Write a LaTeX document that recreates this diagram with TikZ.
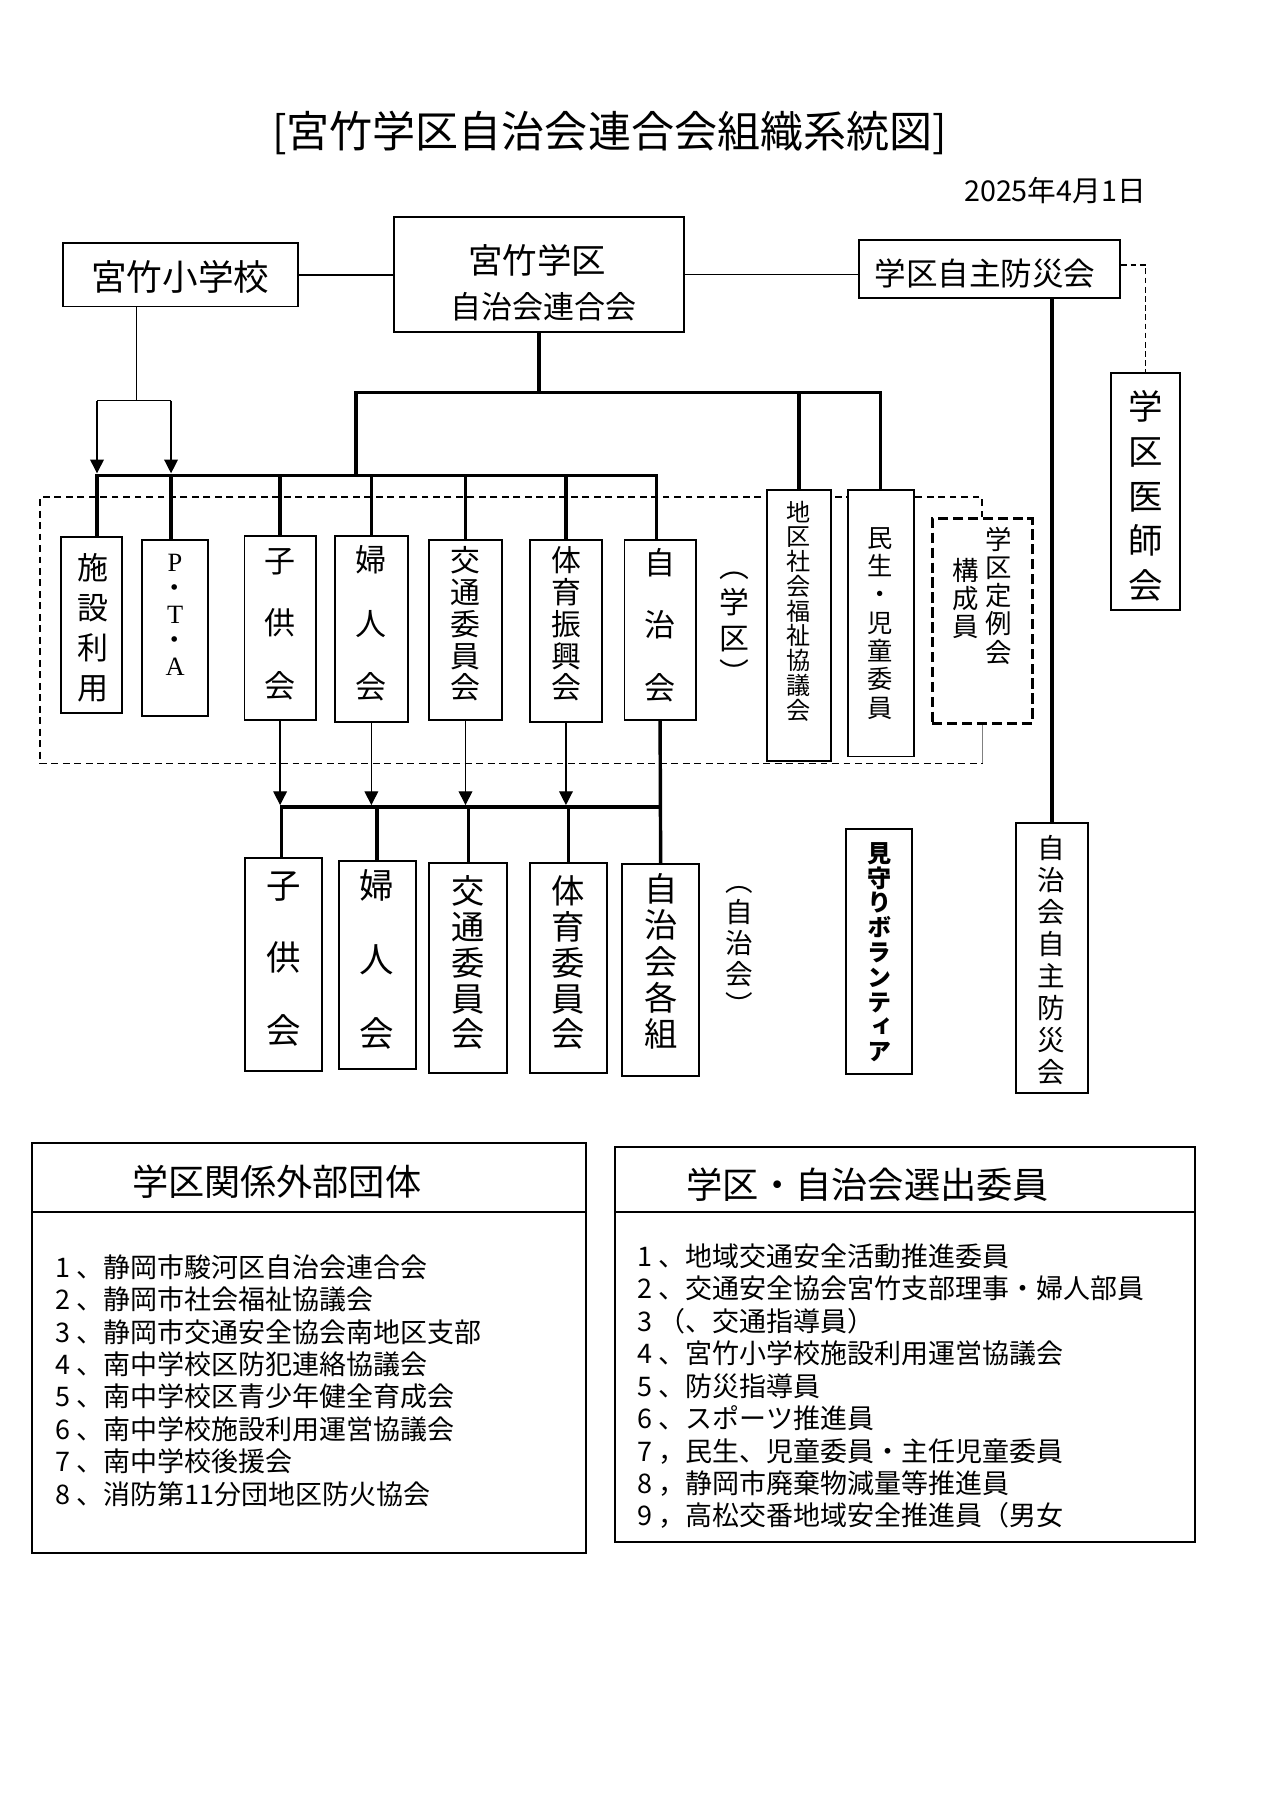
\documentclass[tikz,border=0pt]{standalone}
\usepackage{fontspec}
\setmainfont{Noto Sans CJK JP}
\newfontfamily\cjk{Noto Sans CJK JP}
\newfontfamily\cjkv[RawFeature=+vert]{Noto Sans CJK JP}
\newfontfamily\latserif{Liberation Serif}
\usetikzlibrary{arrows.meta}
\newcommand\lnum[1]{\makebox[0.8em][l]{#1}}
\newcommand\fs[2]{\fontsize{#1}{#2}\selectfont}
\pgfdeclarelayer{bg}
\pgfsetlayers{bg,main}
\begin{document}
\begin{tikzpicture}[x=1pt,y={(0pt,-1pt)},
  box/.style={draw, line width=1.7pt, inner sep=0pt, fill=white},
  dbox/.style={draw, line width=2.6pt, dash pattern=on 9pt off 4pt, inner sep=0pt, fill=white},
  tx/.style={inner sep=0pt, align=center},
  thinl/.style={line width=1.1pt},
  heavy/.style={line width=3pt},
  dsh/.style={line width=1.2pt, dash pattern=on 6pt off 4pt},
  arr/.style={-{Triangle[width=12pt,length=12pt]}}]
\useasboundingbox (0,0) rectangle (1109,1568);

% title and date
\node[tx, font=\cjk\fs{37.5}{40}] (title) at (531,116) {[宮竹学区自治会連合会組織系統図]};
\node[tx, font=\cjk\fs{25}{28}] (date) at (919,166) {2025年4月1日};

% top boxes
\node[box, minimum width=205pt, minimum height=55pt] (sch) at (157.5,239.5) {};
\node[tx, font=\cjk\fs{31}{34}] (tsch) at (157,241) {宮竹小学校};
\node[box, minimum width=253pt, minimum height=100pt] (ren) at (469.5,239) {};
\node[tx, font=\cjk\fs{30}{34}] (tren1) at (468,226.5) {宮竹学区};
\node[tx, font=\cjk\fs{27}{30}] (tren2) at (473.5,267) {自治会連合会};
\node[box, minimum width=228pt, minimum height=51pt] (bou) at (862,234.5) {};
\node[tx, font=\cjk\fs{27.5}{30}] (tbou) at (858,238) {学区自主防災会};
\node[box, minimum width=60pt, minimum height=206pt] (ishi) at (998,428) {};
\node[tx, font=\cjkv\fs{30}{39}] (tishi) at (998,432) {学\\区\\医\\師\\会};

% upper row
\node[box, minimum width=53pt, minimum height=153pt] (shisetsu) at (79.5,544.5) {};
\node[tx, font=\cjkv\fs{27}{34.7}] (tshisetsu) at (81,547) {施\\設\\利\\用};
\node[box, minimum width=57pt, minimum height=154pt] (pta) at (152.5,547) {};
\node[tx, font=\latserif\fs{23}{22.75}] (tpta) at (152.5,535.5) {P\\{\cjk ・}\\T\\{\cjk ・}\\A};
\node[box, minimum width=62pt, minimum height=160pt] (kodomo1) at (244,547) {};
\node[tx, font=\cjkv\fs{27}{54.5}] (tkodomo1) at (244,543.5) {子\\供\\会};
\node[box, minimum width=63pt, minimum height=162pt] (fujin1) at (323.5,548) {};
\node[tx, font=\cjkv\fs{27}{55}] (tfujin1) at (323.5,543) {婦\\人\\会};
\node[box, minimum width=63pt, minimum height=157pt] (koutsu1) at (405.5,548.5) {};
\node[tx, font=\cjkv\fs{26}{27.75}] (tkoutsu1) at (405.5,543.5) {交\\通\\委\\員\\会};
\node[box, minimum width=62pt, minimum height=159pt] (taiiku1) at (493,549.5) {};
\node[tx, font=\cjkv\fs{26}{27.75}] (ttaiiku1) at (493,543.5) {体\\育\\振\\興\\会};
\node[box, minimum width=62pt, minimum height=157pt] (jichi1) at (575,548.5) {};
\node[tx, font=\cjkv\fs{27}{54.5}] (tjichi1) at (575,544.5) {自\\治\\会};
\node[tx, font=\cjkv\fs{26}{31}] (tgakku) at (640,547.5) {（\\学\\区\\）};
\node[box, minimum width=56pt, minimum height=236pt] (chiku) at (696,545) {};
\node[tx, font=\cjkv\fs{21}{21.6}] (tchiku) at (696,532.3) {地\\区\\社\\会\\福\\祉\\協\\議\\会};
\node[box, minimum width=57pt, minimum height=232pt] (minsei) at (767.5,543) {};
\node[tx, font=\cjkv\fs{22}{24.7}] (tminsei) at (767,543) {民\\生\\・\\児\\童\\委\\員};
\node[dbox, minimum width=87pt, minimum height=178pt] (teirei) at (855.5,541) {};
\node[tx, font=\cjkv\fs{23}{24.5}] (tteirei1) at (870,519) {学\\区\\定\\例\\会};
\node[tx, font=\cjkv\fs{23}{24.7}] (tteirei2) at (841,521.3) {構\\成\\員};

% lower row
\node[box, minimum width=67pt, minimum height=186pt] (kodomo2) at (247,840) {};
\node[tx, font=\cjkv\fs{30}{63.4}] (tkodomo2) at (247,835.4) {子\\供\\会};
\node[box, minimum width=67pt, minimum height=181.5pt] (fujin2) at (328.5,840.75) {};
\node[tx, font=\cjkv\fs{30}{64.5}] (tfujin2) at (328.5,835.5) {婦\\人\\会};
\node[box, minimum width=68pt, minimum height=183pt] (koutsu2) at (408,843.5) {};
\node[tx, font=\cjkv\fs{29}{31.25}] (tkoutsu2) at (408,838.5) {交\\通\\委\\員\\会};
\node[box, minimum width=67pt, minimum height=183pt] (taiiku2) at (495,843.5) {};
\node[tx, font=\cjkv\fs{29}{31.25}] (ttaiiku2) at (495,838.5) {体\\育\\委\\員\\会};
\node[box, minimum width=67pt, minimum height=184pt] (jichi2) at (575.5,845) {};
\node[tx, font=\cjkv\fs{29}{31.75}] (tjichi2) at (575.5,837.5) {自\\治\\会\\各\\組};
\node[tx, font=\cjkv\fs{24}{27}] (tjichikai) at (644,828.5) {（\\自\\治\\会\\）};
\node[box, minimum width=57.5pt, minimum height=213.6pt] (mimamori) at (766,828.8) {};
\node[tx, font=\cjkv\bfseries\fs{21}{21.6}] (tmimamori) at (766,829.5) {見\\守\\り\\ボ\\ラ\\ン\\テ\\ィ\\ア};
\node[box, minimum width=63pt, minimum height=235pt] (jbou) at (916.5,834.2) {};
\node[tx, font=\cjkv\fs{24}{27.8}] (tjbou) at (916,836.25) {自\\治\\会\\自\\主\\防\\災\\会};

% bottom tables
\node[box, minimum width=483pt, minimum height=59.5pt] (gaibuH) at (269,1025.75) {};
\node[box, minimum width=483pt, minimum height=297.5pt] (gaibuB) at (269,1204.25) {};
\node[tx, font=\cjk\fs{31.5}{34}] (tgaibuH) at (241,1029) {学区関係外部団体};
\node[tx, align=left, anchor=north west, font=\cjk\fs{23.5}{28.2}] (glist) at (48,1092.7) {%
\lnum{1}、静岡市駿河区自治会連合会\\
\lnum{2}、静岡市社会福祉協議会\\
\lnum{3}、静岡市交通安全協会南地区支部\\
\lnum{4}、南中学校区防犯連絡協議会\\
\lnum{5}、南中学校区青少年健全育成会\\
\lnum{6}、南中学校施設利用運営協議会\\
\lnum{7}、南中学校後援会\\
\lnum{8}、消防第11分団地区防火協会};

\node[box, minimum width=505pt, minimum height=57pt] (senH) at (788.5,1027.5) {};
\node[box, minimum width=505pt, minimum height=287pt] (senB) at (788.5,1199.5) {};
\node[tx, font=\cjk\fs{31.6}{34}] (tsenH) at (756,1032) {学区・自治会選出委員};
\node[tx, align=left, anchor=north west, font=\cjk\fs{23.5}{28.3}] (slist) at (555,1082.9) {%
\lnum{1}、地域交通安全活動推進委員\\
\lnum{2}、交通安全協会宮竹支部理事・婦人部員\\
\lnum{3}（、交通指導員）\\
\lnum{4}、宮竹小学校施設利用運営協議会\\
\lnum{5}、防災指導員\\
\lnum{6}、スポーツ推進員\\
\lnum{7}，民生、児童委員・主任児童委員\\
\lnum{8}，静岡市廃棄物減量等推進員\\
\lnum{9}，高松交番地域安全推進員（男女};

% coordinates
\coordinate (sj) at (119,349);
\coordinate (aL) at (84.5,349);
\coordinate (aR) at (149,349);
\coordinate (b1) at (84.5,414);
\coordinate (b2) at (149,414);
\coordinate (b7) at (572,414);
\coordinate (tipA) at (0,412.3);
\coordinate (u1) at (310,342);
\coordinate (u2) at (767,342);
\coordinate (barL) at (245,703);
\coordinate (tipB) at (0,701.3);
\coordinate (eTL) at (35,433);
\coordinate (eTR) at (856,433);
\coordinate (eBL) at (35,665);
\coordinate (eBR) at (856,665);

% background
\begin{pgfonlayer}{bg}
\fill[white] (0,0) rectangle (1109,1568);
\draw[dsh] (teirei.north) -- (teirei.north |- eTR) -- (eTL) -- (eBL) -- (eBR |- eBL);
\draw[gray, line width=0.8pt] (teirei.south) -- (teirei.south |- eBL);
\end{pgfonlayer}

% top connectors
\draw[thinl] (sch.east) -- (sch.east -| ren.west);
\draw[thinl] (ren.east) -- (ren.east -| bou.west);
\draw[line width=1.2pt, dash pattern=on 5pt off 3pt] ([yshift=3.5pt]bou.east) -| (ishi.north);
\draw[heavy] (bou.south -| jbou.north) -- (jbou.north);

% school to arrows
\draw[thinl] (sch.south -| sj) -- (sj);
\draw[thinl] (aL) -- (aR);
\draw[thinl, arr] (aL) -- (aL |- tipA);
\draw[thinl, arr] (aR) -- (aR |- tipA);

% federation to upper bar
\draw[heavy] (ren.south) -- (ren.south |- u1);
\draw[heavy] (u1 |- b1) -- (u1) -- (u2) -- (u2 |- minsei.north);
\draw[heavy] (chiku.north |- u1) -- (chiku.north);

% bar over upper row
\draw[heavy] (b1 |- shisetsu.north) -- (b1) -- (b7) -- (b7 |- jichi1.north);
\draw[heavy] (b2) -- (b2 |- pta.north);
\draw[heavy] (kodomo1.north |- b1) -- (kodomo1.north);
\draw[heavy] (fujin1.north |- b1) -- (fujin1.north);
\draw[heavy] (koutsu1.north |- b1) -- (koutsu1.north);
\draw[heavy] (taiiku1.north |- b1) -- (taiiku1.north);

% upper row to lower row
\draw[thinl, arr] (kodomo1.south) -- (kodomo1.south |- tipB);
\draw[thinl, arr] (fujin1.south) -- (fujin1.south |- tipB);
\draw[thinl, arr] (koutsu1.south) -- (koutsu1.south |- tipB);
\draw[thinl, arr] (taiiku1.south) -- (taiiku1.south |- tipB);
\draw[heavy] (jichi1.south) -- (jichi2.north);
\draw[heavy] (jichi1.south |- barL) -- (barL) -- (barL |- kodomo2.north);
\draw[heavy] (fujin2.north |- barL) -- (fujin2.north);
\draw[heavy] (koutsu2.north |- barL) -- (koutsu2.north);
\draw[heavy] (taiiku2.north |- barL) -- (taiiku2.north);
\end{tikzpicture}
\end{document}
